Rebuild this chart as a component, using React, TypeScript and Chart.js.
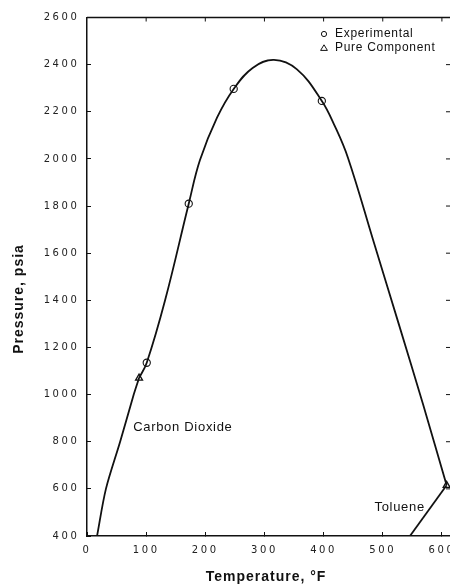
import React, { useEffect, useRef } from "react";
import { Chart, registerables } from "chart.js";
Chart.register(...registerables);

// Phase envelope (temperature °F, pressure psia)
const envelopeT = [88, 101, 132, 172, 191, 220, 248, 280, 316, 355, 397, 419, 441, 485, 527, 568, 608];
const envelopeP = [1070, 1135, 1400, 1810, 1995, 2176, 2297, 2386, 2420, 2380, 2246, 2139, 2006, 1645, 1300, 960, 615];

// Carbon dioxide vapour-pressure line
const co2T = [17, 32, 56, 79, 88];
const co2P = [400, 600, 800, 1000, 1070];

// Toluene vapour-pressure line
const tolueneT = [546, 608];
const tolueneP = [400, 615];

// Experimental points
const expT = [101, 172, 248, 397];
const expP = [1135, 1810, 2297, 2246];

// Pure component critical points
const pureT = [88, 608];
const pureP = [1070, 615];

const xMin = 0;
const xMax = 612;
const xStep = 100;
const yMin = 400;
const yMax = 2600;
const yStep = 200;

const xTitle = "Temperature, °F";
const yTitle = "Pressure, psia";
const legendLabels = ["Experimental", "Pure Component"];
const co2Label = "Carbon Dioxide";
const tolueneLabel = "Toluene";

const toXY = (ts: number[], ps: number[]) => ts.map((t, i) => ({ x: t, y: ps[i] }));

export default function App() {
  const ref = useRef<HTMLCanvasElement>(null);

  useEffect(() => {
    const canvas = ref.current;
    if (!canvas) return;
    const ink = "#111";

    const overlay = {
      id: "overlay",
      beforeDraw(chart: any) {
        chart.ctx.letterSpacing = "2.6px";
      },
      beforeDatasetsDraw(chart: any) {
        chart.ctx.letterSpacing = "0px";
      },
      afterDraw(chart: any) {
        const ctx = chart.ctx as CanvasRenderingContext2D;
        const { left, right, top } = chart.chartArea;
        const xs = chart.scales.x;
        const ys = chart.scales.y;
        ctx.save();
        (ctx as any).letterSpacing = "0px";
        ctx.strokeStyle = ink;
        ctx.fillStyle = ink;
        // top frame line
        ctx.lineWidth = 1.5;
        ctx.beginPath();
        ctx.moveTo(left, top);
        ctx.lineTo(right + 2, top);
        ctx.stroke();
        // inward ticks on top and right
        ctx.lineWidth = 1;
        ctx.beginPath();
        xs.ticks.forEach((t: any) => {
          if (t.value <= xMin) return;
          const px = xs.getPixelForValue(t.value);
          ctx.moveTo(px, top);
          ctx.lineTo(px, top + 4);
        });
        ys.ticks.forEach((t: any) => {
          if (t.value <= yMin || t.value >= yMax) return;
          const py = ys.getPixelForValue(t.value);
          ctx.moveTo(right - 3, py);
          ctx.lineTo(right + 1, py);
        });
        ctx.stroke();

        // legend
        const lx = 324;
        const ly1 = 34;
        const ly2 = 48;
        ctx.lineWidth = 1;
        ctx.fillStyle = "#fff";
        ctx.beginPath();
        ctx.arc(lx, ly1, 2.6, 0, Math.PI * 2);
        ctx.fill();
        ctx.stroke();
        ctx.beginPath();
        ctx.moveTo(lx, ly2 - 3.2);
        ctx.lineTo(lx + 3.4, ly2 + 2.4);
        ctx.lineTo(lx - 3.4, ly2 + 2.4);
        ctx.closePath();
        ctx.fill();
        ctx.stroke();
        ctx.fillStyle = ink;
        (ctx as any).letterSpacing = "0.7px";
        ctx.font = "12px 'Liberation Sans', Arial, sans-serif";
        ctx.textAlign = "left";
        ctx.textBaseline = "middle";
        ctx.fillText(legendLabels[0], 335, ly1);
        ctx.fillText(legendLabels[1], 335, ly2);

        // curve annotations
        ctx.font = "13px 'Liberation Sans', Arial, sans-serif";
        ctx.fillText(co2Label, xs.getPixelForValue(78), ys.getPixelForValue(860));
        ctx.fillText(tolueneLabel, xs.getPixelForValue(486), ys.getPixelForValue(522));

        // axis titles
        (ctx as any).letterSpacing = "1px";
        ctx.font = "bold 14px 'Liberation Sans', Arial, sans-serif";
        ctx.textAlign = "center";
        ctx.fillText(xTitle, (left + right) / 2 - 2, 577);
        ctx.translate(19, 299);
        ctx.rotate(-Math.PI / 2);
        ctx.fillText(yTitle, 0, 0);
        ctx.restore();
      },
    };

    const tickFont = { family: "'DejaVu Sans', sans-serif", size: 10 };
    const plain = (v: any) => String(v);

    const chart = new Chart(canvas, {
      type: "scatter",
      data: {
        datasets: [
          {
            label: "envelope",
            data: toXY(envelopeT, envelopeP),
            showLine: true,
            borderColor: ink,
            borderWidth: 1.8,
            pointRadius: 0,
            tension: 0.4,
            fill: false,
          },
          {
            label: "co2",
            data: toXY(co2T, co2P),
            showLine: true,
            borderColor: ink,
            borderWidth: 1.8,
            pointRadius: 0,
            tension: 0.3,
            fill: false,
          },
          {
            label: "toluene",
            data: toXY(tolueneT, tolueneP),
            showLine: true,
            borderColor: ink,
            borderWidth: 1.8,
            pointRadius: 0,
            tension: 0,
            fill: false,
          },
          {
            label: legendLabels[0],
            data: toXY(expT, expP),
            showLine: false,
            pointStyle: "circle",
            pointRadius: 3.6,
            backgroundColor: "#fff",
            borderColor: ink,
            borderWidth: 1.1,
            clip: false,
          },
          {
            label: legendLabels[1],
            data: toXY(pureT, pureP),
            showLine: false,
            pointStyle: "triangle",
            pointRadius: 4,
            backgroundColor: "#fff",
            borderColor: ink,
            borderWidth: 1.3,
            clip: false,
          },
        ],
      } as any,
      options: {
        responsive: false,
        animation: false,
        events: [],
        layout: { padding: { top: 15, right: 21, bottom: 0, left: 0 } },
        plugins: { legend: { display: false }, tooltip: { enabled: false } },
        scales: {
          x: {
            type: "linear",
            position: "bottom",
            min: xMin,
            max: xMax,
            afterFit(s: any) {
              s.height = 48;
            },
            ticks: {
              stepSize: xStep,
              includeBounds: false,
              padding: 12,
              color: "#222",
              font: tickFont,
              callback: plain,
            },
            grid: { drawOnChartArea: false, drawTicks: true, tickLength: -4, color: ink, lineWidth: 1 },
            border: { display: true, color: ink, width: 1.5 },
          },
          y: {
            type: "linear",
            position: "left",
            min: yMin,
            max: yMax,
            afterFit(s: any) {
              s.width = 87;
            },
            ticks: {
              stepSize: yStep,
              padding: 11.5,
              color: "#222",
              font: tickFont,
              callback: plain,
            },
            grid: { drawOnChartArea: false, drawTicks: true, tickLength: -4, color: ink, lineWidth: 1 },
            border: { display: true, color: ink, width: 1.5 },
          },
        },
      } as any,
      plugins: [overlay],
    });

    return () => chart.destroy();
  }, []);

  return (
    <div
      style={{
        position: "absolute",
        left: 0,
        top: 0,
        width: 450,
        height: 584,
        overflow: "hidden",
        background: "#fff",
      }}
    >
      <canvas ref={ref} width={470} height={584} style={{ display: "block", width: 470, height: 584 }} />
    </div>
  );
}
